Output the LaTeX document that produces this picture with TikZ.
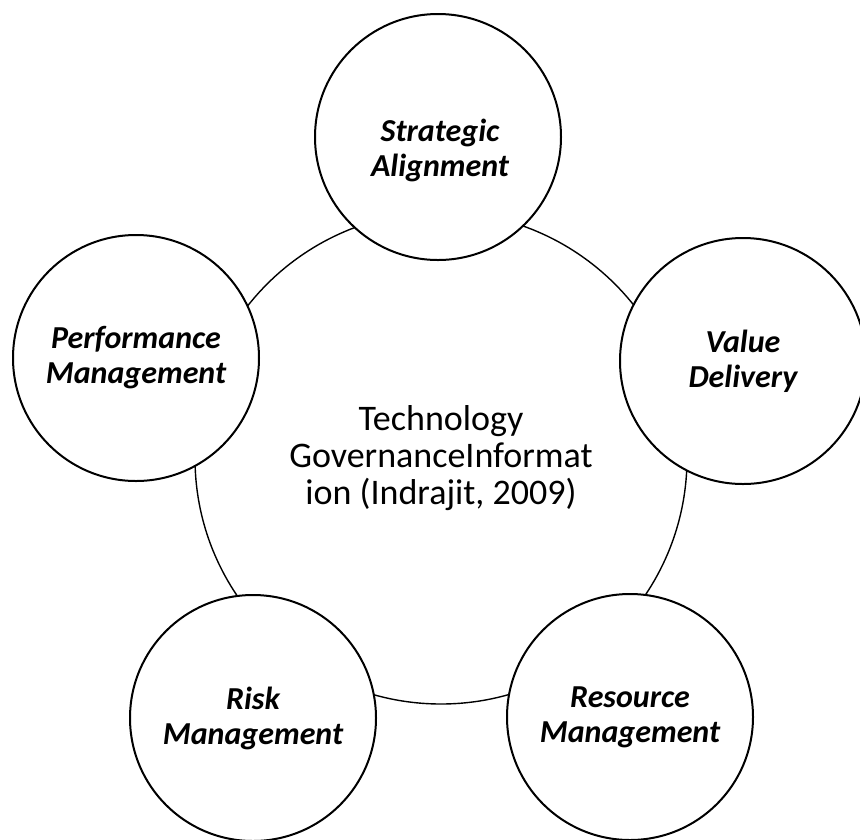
\documentclass[tikz,border=0pt]{standalone}
\usepackage{fontspec}
\setmainfont{Carlito}
\begin{document}
\begin{tikzpicture}[x=1pt,y=-1pt,
  outer/.style={circle, draw, line width=2pt, fill=white, minimum size=246pt, inner sep=0pt, align=center, font=\fontsize{32}{35}\selectfont\bfseries\itshape},
  lab/.style={inner sep=0pt, align=center, font=\fontsize{32}{35}\selectfont\bfseries\itshape},
  hub/.style={circle, draw, line width=1.4pt, minimum size=492pt, inner sep=0pt, align=center, font=\fontsize{36}{37}\selectfont}]
\useasboundingbox (0,0) rectangle (860,839);
\node[hub] (c) at (441,458) {Technology\\GovernanceInformat\\ion (Indrajit, 2009)};
\node[outer] (sa) at (438,137) {};
\node[lab] (salab) at (440,150) {Strategic\\Alignment};
\node[outer] (vd) at (743,361) {Value\\Delivery};
\node[outer] (rs) at (630,717) {Resource\\Management};
\node[outer] (rk) at (253,718) {Risk\\Management};
\node[outer] (pm) at (136,358) {Performance\\Management};
\end{tikzpicture}
\end{document}
